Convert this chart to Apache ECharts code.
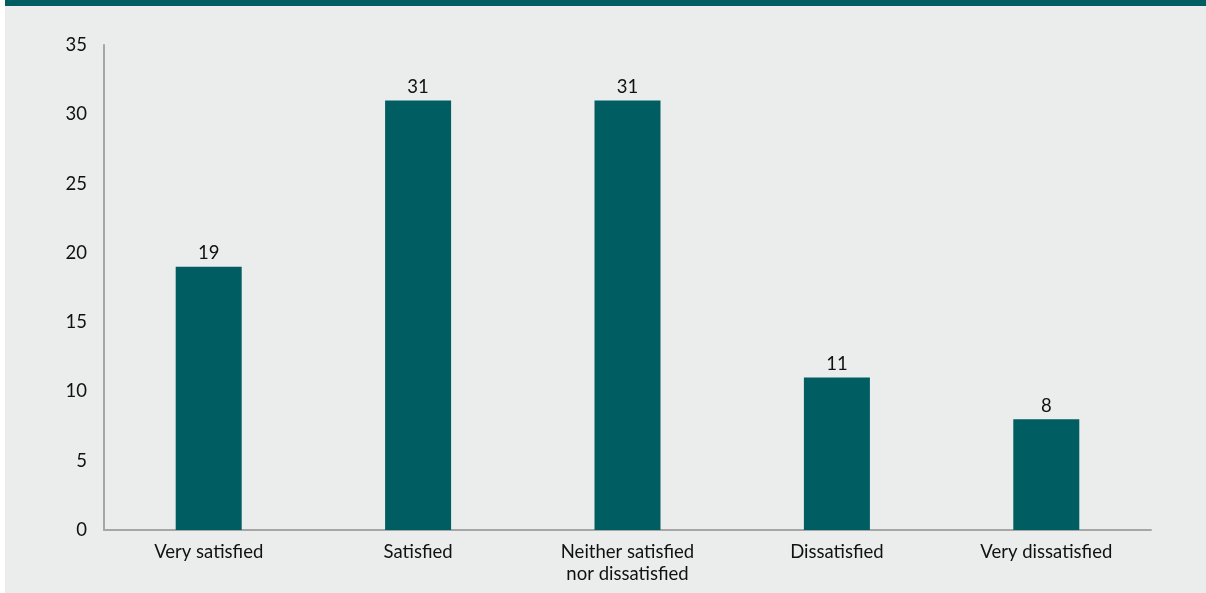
<!DOCTYPE html>
<html>
<head>
<meta charset="utf-8">
<script src="https://cdn.jsdelivr.net/npm/echarts@6/dist/echarts.min.js"></script>
<style>
  html, body { margin: 0; padding: 0; background: #ffffff; }
  #chart { width: 1206px; height: 593px; }
</style>
</head>
<body>
<div id="chart"></div>
<script>
// Satisfaction responses (per cent)
const categories = ['Very satisfied', 'Satisfied', 'Neither satisfied\nnor dissatisfied', 'Dissatisfied', 'Very dissatisfied'];
const values = [19, 31, 31, 11, 8];
const yTicks = { min: 0, max: 35, interval: 5 };

const TEAL = '#005d61';
const PANEL = '#ebedec';
const FONT = 'Lato';

const chart = echarts.init(document.getElementById('chart'), null, { renderer: 'canvas' });

chart.setOption({
  backgroundColor: '#ffffff',
  animation: false,
  textStyle: { fontFamily: FONT },
  graphic: [
    { type: 'rect', z: -10, shape: { x: 5, y: 0, width: 1201, height: 593 }, style: { fill: PANEL } },
    { type: 'rect', z: -9, shape: { x: 5, y: 0, width: 1201, height: 6 }, style: { fill: TEAL } }
  ],
  grid: { left: 104, right: 55, top: 45, bottom: 63, containLabel: false },
  xAxis: {
    type: 'category',
    data: categories,
    axisLine: { lineStyle: { color: '#a6a6a6', width: 2 } },
    axisTick: { show: false },
    axisLabel: { color: '#111111', fontSize: 18.5, fontFamily: FONT, margin: 11, lineHeight: 22, interval: 0 }
  },
  yAxis: {
    type: 'value',
    min: yTicks.min,
    max: yTicks.max,
    interval: yTicks.interval,
    splitLine: { show: false },
    axisLine: { show: true, lineStyle: { color: '#a6a6a6', width: 2 } },
    axisTick: { show: false },
    axisLabel: { color: '#111111', fontSize: 18.5, fontFamily: FONT, margin: 17 }
  },
  series: [{
    type: 'bar',
    data: values,
    barWidth: 66,
    itemStyle: { color: TEAL },
    label: { show: true, position: 'top', color: '#111111', fontSize: 18.5, fontFamily: FONT, distance: 4 }
  }]
});
</script>
</body>
</html>
